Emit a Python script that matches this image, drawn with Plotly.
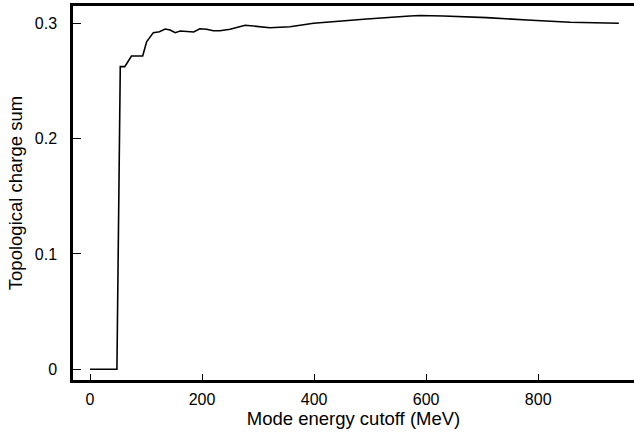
import plotly.graph_objects as go

# Cumulative topological charge vs. mode energy cutoff
cutoff_mev = [0, 48, 54, 62, 74, 94, 101, 113, 124, 134, 143, 152, 161, 179, 185,
              196, 208, 220, 232, 250, 277, 321, 357, 399, 446, 494, 571, 589,
              631, 708, 780, 857, 944]
charge_sum = [0, 0, 0.2624, 0.2624, 0.2716, 0.2716, 0.284, 0.2919, 0.2927, 0.295,
              0.2942, 0.2919, 0.2933, 0.293, 0.2925, 0.2953, 0.2948, 0.2935, 0.2936,
              0.2948, 0.2983, 0.2962, 0.297, 0.300, 0.302, 0.3037, 0.3063, 0.3068,
              0.3063, 0.3049, 0.3029, 0.3009, 0.300]

x_ticks = [0, 200, 400, 600, 800]
y_ticks = [0, 0.1, 0.2, 0.3]
y_tick_text = ["0", "0.1", "0.2", "0.3"]

family = "Liberation Sans, Arial, sans-serif"
tick_font = dict(family=family, size=16, color="black")
title_font = dict(family=family, size=18.5, color="black")

fig = go.Figure()
fig.add_trace(go.Scatter(
    x=cutoff_mev, y=charge_sum, mode="lines",
    line=dict(color="black", width=1.6),
    showlegend=False, hoverinfo="skip",
))

fig.update_layout(
    width=634, height=439,
    margin=dict(l=73, r=0, t=6, b=59),
    paper_bgcolor="white", plot_bgcolor="white",
    font=tick_font,
    xaxis=dict(
        range=[-30.4, 971], tickvals=x_ticks, ticks="inside", ticklen=6,
        tickwidth=1.3, tickcolor="black", showgrid=False, zeroline=False,
        showline=True, linecolor="black", linewidth=2.5, mirror=True,
        tickfont=tick_font, ticklabelstandoff=3,
        title=dict(text="Mode energy cutoff (MeV)", standoff=6, font=title_font),
    ),
    yaxis=dict(
        range=[-0.0093, 0.315], tickvals=y_ticks, ticktext=y_tick_text,
        ticks="inside", ticklen=8, tickwidth=1.3, tickcolor="black",
        showgrid=False, zeroline=False, showline=True, linecolor="black",
        linewidth=2.5, tickfont=tick_font, ticklabelstandoff=10,
        title=dict(text="Topological charge sum", standoff=8, font=title_font),
    ),
)

fig.write_html("out.html")
